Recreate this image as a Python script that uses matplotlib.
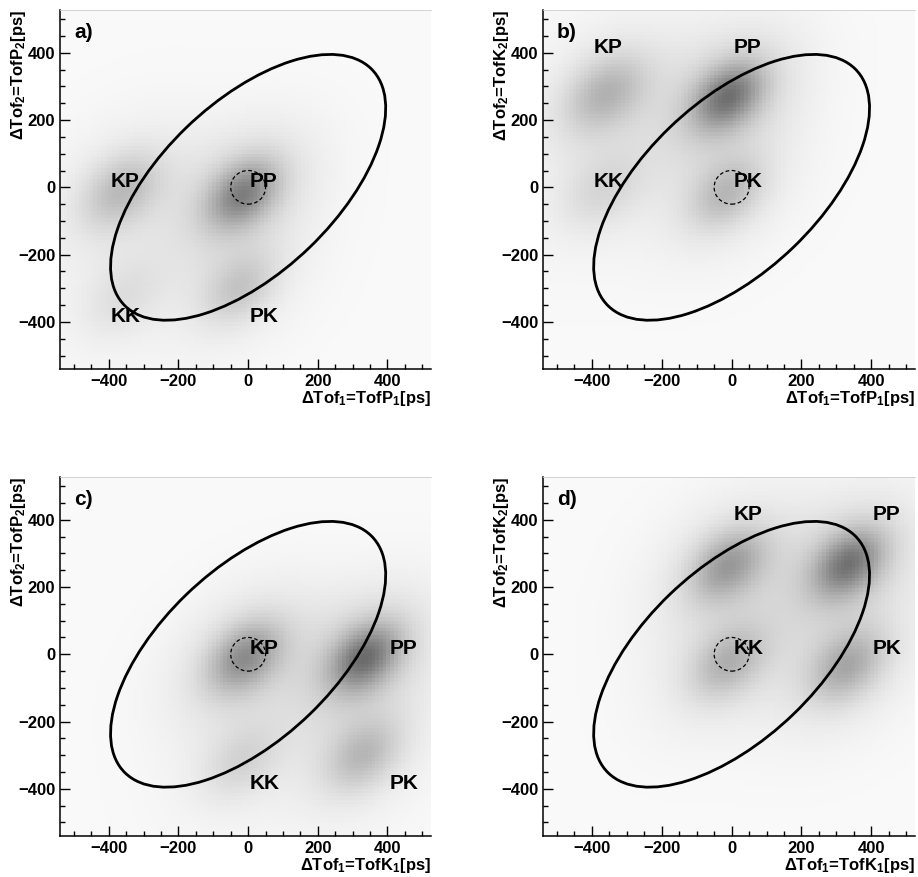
import numpy as np
import matplotlib
matplotlib.use("Agg")
import matplotlib.pyplot as plt
from matplotlib.colors import LinearSegmentedColormap
from matplotlib.patches import Ellipse, Circle
from matplotlib.ticker import MultipleLocator

plt.rcParams['font.family'] = ['Liberation Sans', 'DejaVu Sans']
plt.rcParams['font.weight'] = 'bold'
plt.rcParams['mathtext.fontset'] = 'custom'
plt.rcParams['mathtext.rm'] = 'Liberation Sans:bold'
plt.rcParams['mathtext.it'] = 'Liberation Sans:bold'
plt.rcParams['mathtext.bf'] = 'Liberation Sans:bold'

# axis range of the histograms [ps]
x_range = (-540, 525)
y_range = (-540, 527)
n_bins = 100

panel_tags = ['a)', 'b)', 'c)', 'd)']
x_titles = [r'$\Delta$Tof$_1$=TofP$_1$[ps]', r'$\Delta$Tof$_1$=TofP$_1$[ps]',
            r'$\Delta$Tof$_1$=TofK$_1$[ps]', r'$\Delta$Tof$_1$=TofK$_1$[ps]']
y_titles = [r'$\Delta$Tof$_2$=TofP$_2$[ps]', r'$\Delta$Tof$_2$=TofK$_2$[ps]',
            r'$\Delta$Tof$_2$=TofP$_2$[ps]', r'$\Delta$Tof$_2$=TofK$_2$[ps]']

# peak hypotheses in each panel (blob centre, darkness, width)
peak_names = ['KP', 'PP', 'KK', 'PK']
a_peak_x = [-365, -15, -360, -25]
a_peak_y = [-10, -20, -330, -300]
a_peak_amp = [0.18, 0.35, 0.07, 0.14]
a_peak_sig = [75, 68, 80, 70]

b_peak_x = [-360, -10, -370, -15]
b_peak_y = [280, 270, -10, -20]
b_peak_amp = [0.20, 0.39, 0.09, 0.18]
b_peak_sig = [78, 68, 80, 70]

c_peak_x = [-10, 335, -20, 330]
c_peak_y = [-10, -10, -320, -300]
c_peak_amp = [0.31, 0.40, 0.10, 0.18]
c_peak_sig = [70, 68, 75, 72]

d_peak_x = [-10, 335, -10, 330]
d_peak_y = [265, 270, -25, -35]
d_peak_amp = [0.27, 0.38, 0.20, 0.23]
d_peak_sig = [72, 68, 72, 72]

# where the peak labels sit (left edge, baseline)
a_label_x = [-395, 5, -395, 5]
a_label_y = [0, 0, -400, -400]
b_label_x = [-395, 5, -395, 5]
b_label_y = [400, 400, 0, 0]
c_label_x = [5, 405, 5, 405]
c_label_y = [0, 0, -400, -400]
d_label_x = [5, 405, 5, 405]
d_label_y = [400, 400, 0, 0]

panels = [
    (a_peak_x, a_peak_y, a_peak_amp, a_peak_sig, a_label_x, a_label_y),
    (b_peak_x, b_peak_y, b_peak_amp, b_peak_sig, b_label_x, b_label_y),
    (c_peak_x, c_peak_y, c_peak_amp, c_peak_sig, c_label_x, c_label_y),
    (d_peak_x, d_peak_y, d_peak_amp, d_peak_sig, d_label_x, d_label_y),
]

# selection ellipse and the small dashed circle
ell_width, ell_height, ell_angle = 998, 502, 45
circle_r = 50

floor_level = 0.025
halo_frac = 0.35
halo_scale = 2.2
rho = 0.35


def density(xc, yc, px, py, amp, sig):
    X, Y = np.meshgrid(xc, yc)
    z = np.full_like(X, floor_level)
    for cx, cy, a, s in zip(px, py, amp, sig):
        dx = (X - cx) / s
        dy = (Y - cy) / s
        q = (dx * dx - 2 * rho * dx * dy + dy * dy) / (1 - rho ** 2)
        z += a * np.exp(-q / 2) + halo_frac * a * np.exp(-q / (2 * halo_scale ** 2))
    return np.clip(z, 0, 0.9)


cmap = LinearSegmentedColormap.from_list('rootgray', ['#ffffff', '#000000'])

fig = plt.figure(figsize=(9.18, 8.77), dpi=100)
rects = [
    (0.0654, 0.5792, 0.4041, 0.4094),
    (0.5915, 0.5792, 0.4052, 0.4094),
    (0.0654, 0.0468, 0.4041, 0.4093),
    (0.5915, 0.0468, 0.4052, 0.4093),
]

xe = np.linspace(x_range[0], x_range[1], n_bins + 1)
ye = np.linspace(y_range[0], y_range[1], n_bins + 1)
xc = 0.5 * (xe[1:] + xe[:-1])
yc = 0.5 * (ye[1:] + ye[:-1])

for i, (px, py, amp, sig, lx, ly) in enumerate(panels):
    ax = fig.add_axes(rects[i])
    z = density(xc, yc, px, py, amp, sig)
    ax.pcolormesh(xe, ye, z, cmap=cmap, vmin=0, vmax=1, shading='flat')

    ax.add_patch(Ellipse((0, 0), ell_width, ell_height, angle=ell_angle,
                         fill=False, color='black', lw=2.0))
    ax.add_patch(Circle((0, 0), circle_r, fill=False, color='black',
                        lw=0.9, linestyle=(0, (3, 2))))

    for name, tx, ty in zip(peak_names, lx, ly):
        ax.text(tx, ty, name, fontsize=15, fontweight='bold',
                ha='left', va='baseline')
    ax.text(-500, 460, panel_tags[i], fontsize=15, fontweight='bold',
            ha='left', va='center')

    ax.set_xlim(*x_range)
    ax.set_ylim(*y_range)
    ax.xaxis.set_major_locator(MultipleLocator(200))
    ax.xaxis.set_minor_locator(MultipleLocator(50))
    ax.yaxis.set_major_locator(MultipleLocator(200))
    ax.yaxis.set_minor_locator(MultipleLocator(50))
    ax.tick_params(which='both', direction='in', top=False, right=False,
                   labelsize=12, width=1.0)
    ax.tick_params(which='major', length=7, pad=3.5)
    ax.tick_params(which='minor', length=3.5)
    for lab in ax.get_xticklabels() + ax.get_yticklabels():
        lab.set_fontweight('bold')

    ax.spines['right'].set_visible(False)
    ax.spines['top'].set_color('#cccccc')
    ax.spines['top'].set_linewidth(0.6)
    ax.spines['left'].set_linewidth(1.1)
    ax.spines['bottom'].set_linewidth(1.1)

    ax.text(1.0, -0.083, x_titles[i], transform=ax.transAxes, fontsize=12,
            fontweight='bold', ha='right', va='center')
    ax.text(-0.112, 1.0, y_titles[i], transform=ax.transAxes, fontsize=12,
            fontweight='bold', ha='center', va='top', rotation=90)

fig.savefig('out.png', dpi=100)
